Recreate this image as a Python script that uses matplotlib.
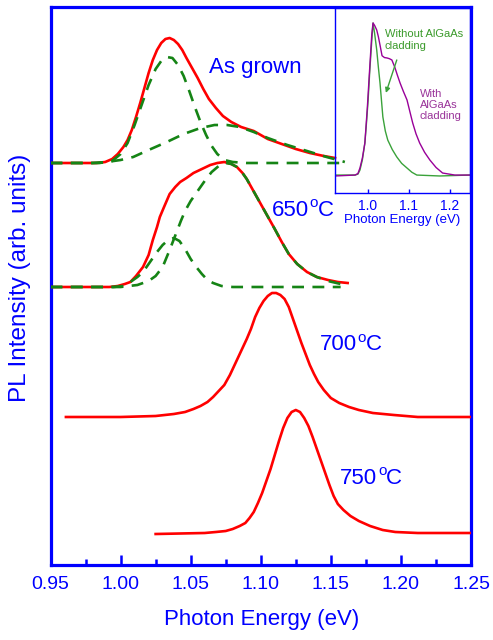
import matplotlib
matplotlib.use("Agg")
import matplotlib.pyplot as plt
from matplotlib.ticker import MultipleLocator

plt.rcParams['font.family'] = ['Liberation Sans', 'DejaVu Sans']

BLUE = '#0000FF'
RED = '#FF0000'
DGREEN = '#158415'
IGREEN = '#3aa23a'
PURPLE = '#990099'

# ---- main panel data (photon energy eV, PL intensity arb. units, offset stacked) ----
asg_x = [0.950, 0.975, 0.983, 0.989, 0.994, 0.998, 1.002, 1.005, 1.008, 1.011, 1.014, 1.017,
         1.020, 1.023, 1.026, 1.029, 1.032, 1.035, 1.038, 1.041, 1.044, 1.047, 1.051, 1.055,
         1.059, 1.063, 1.068, 1.073, 1.079, 1.086, 1.095, 1.105, 1.115, 1.125, 1.135, 1.145, 1.153]
asg_y = [402, 402, 402, 403, 406, 411, 418, 425, 435, 448, 462, 477,
         492, 505, 515, 522, 526, 527, 525, 521, 515, 507, 497, 487,
         476, 466, 457, 449, 443, 438, 434, 426, 421, 416, 412, 409, 407]
asg_c1_x = [0.950, 0.985, 0.994, 1.000, 1.005, 1.010, 1.015, 1.020, 1.025, 1.029, 1.033, 1.037,
            1.041, 1.045, 1.049, 1.053, 1.057, 1.061, 1.065, 1.069, 1.074, 1.080, 1.090, 1.160]
asg_c1_y = [402, 402, 404, 411, 422, 440, 460, 480, 496, 504, 508, 507,
            500, 489, 474, 458, 443, 430, 419, 411, 405, 403, 402, 402]
asg_c2_x = [0.950, 0.980, 0.990, 1.000, 1.009, 1.020, 1.033, 1.045, 1.057, 1.067, 1.076, 1.085,
            1.095, 1.105, 1.119, 1.133, 1.147, 1.155, 1.160]
asg_c2_y = [402, 402, 403, 405, 408, 415, 423, 431, 437, 440, 440, 438,
            433, 427, 420, 414, 408, 405, 403]

a650_x = [0.950, 0.985, 0.992, 0.998, 1.003, 1.007, 1.011, 1.016, 1.020, 1.023, 1.026, 1.028,
          1.031, 1.035, 1.039, 1.0425, 1.047, 1.052, 1.058, 1.064, 1.069, 1.074, 1.079, 1.083,
          1.087, 1.090, 1.094, 1.098, 1.102, 1.106, 1.110, 1.115, 1.120, 1.126, 1.133, 1.140,
          1.148, 1.155, 1.162]
a650_y = [278, 278, 278, 279, 281, 283, 289, 298, 310, 325, 338, 348,
          358, 371, 378, 383, 387, 392, 396, 400, 402, 403, 401, 398,
          392, 386, 376, 366, 356, 346, 336, 323, 311, 301, 293, 288,
          285, 283, 282]
a650_c1_x = [0.950, 0.995, 1.002, 1.007, 1.012, 1.016, 1.021, 1.026, 1.030, 1.034, 1.038, 1.042,
             1.046, 1.050, 1.054, 1.058, 1.062, 1.066, 1.072, 1.080, 1.157]
a650_c1_y = [278, 278, 279, 283, 288, 293, 303, 313, 320, 325, 327, 324,
             316, 306, 298, 291, 285, 282, 279, 278, 278]
a650_c2_x = [0.950, 1.000, 1.012, 1.020, 1.025, 1.030, 1.035, 1.040, 1.043, 1.046, 1.050, 1.054,
             1.057, 1.061, 1.065, 1.070, 1.075, 1.079, 1.083, 1.087, 1.090, 1.094, 1.098, 1.102,
             1.106, 1.110, 1.115, 1.120, 1.126, 1.133, 1.140, 1.148, 1.157]
a650_c2_y = [278, 278, 280, 284, 289, 298, 315, 333, 344, 354, 364, 372,
             378, 386, 393, 399, 402, 401, 398, 392, 386, 376, 366, 356,
             346, 336, 323, 311, 301, 293, 288, 284, 281]

a700_x = [0.961, 1.000, 1.025, 1.038, 1.046, 1.052, 1.057, 1.062, 1.066, 1.070, 1.074, 1.078,
          1.082, 1.086, 1.090, 1.093, 1.096, 1.099, 1.102, 1.105, 1.108, 1.111, 1.114, 1.117,
          1.120, 1.123, 1.126, 1.129, 1.132, 1.135, 1.138, 1.141, 1.145, 1.150, 1.156, 1.163,
          1.170, 1.180, 1.195, 1.212, 1.250]
a700_y = [148, 148, 149, 151, 153, 156, 159, 163, 168, 174, 180, 190,
          202, 214, 226, 236, 248, 257, 264, 269, 272, 272, 270, 266,
          258, 246, 234, 222, 211, 200, 191, 183, 175, 167, 162, 158,
          155, 152, 150, 148, 148]

a750_x = [1.025, 1.060, 1.068, 1.075, 1.080, 1.085, 1.089, 1.092, 1.095, 1.098, 1.101, 1.104,
          1.107, 1.110, 1.113, 1.116, 1.119, 1.122, 1.125, 1.128, 1.131, 1.134, 1.137, 1.140,
          1.143, 1.146, 1.149, 1.152, 1.155, 1.159, 1.164, 1.170, 1.178, 1.187, 1.196, 1.212, 1.250]
a750_y = [31, 32, 33, 34, 36, 39, 42, 47, 53, 62, 72, 84,
          96, 110, 124, 137, 147, 153, 155, 153, 147, 139, 128, 116,
          104, 92, 80, 69, 61, 55, 49, 44, 39, 35, 33, 32, 32]

x_ticks = [0.95, 1.00, 1.05, 1.10, 1.15, 1.20, 1.25]
x_tick_labels = ['0.95', '1.00', '1.05', '1.10', '1.15', '1.20', '1.25']

# ---- inset data (normalised PL) ----
wo_x = [0.920, 0.969, 0.976, 0.981, 0.987, 0.993, 0.997, 1.001, 1.005, 1.010, 1.013, 1.017,
        1.022, 1.026, 1.030, 1.034, 1.037, 1.043, 1.049, 1.060, 1.071, 1.083, 1.096, 1.108,
        1.120, 1.176, 1.249]
wo_y = [0.097, 0.097, 0.102, 0.124, 0.180, 0.270, 0.380, 0.503, 0.660, 0.827, 0.919, 0.860,
        0.773, 0.680, 0.595, 0.490, 0.411, 0.335, 0.286, 0.235, 0.195, 0.160, 0.135, 0.112,
        0.097, 0.092, 0.097]
w_x = [0.920, 0.969, 0.976, 0.981, 0.987, 0.993, 0.999, 1.005, 1.010, 1.013, 1.017, 1.022,
       1.026, 1.030, 1.035, 1.041, 1.047, 1.053, 1.059, 1.066, 1.072, 1.079, 1.087, 1.096,
       1.103, 1.110, 1.118, 1.127, 1.139, 1.152, 1.167, 1.183, 1.213, 1.249]
w_y = [0.092, 0.097, 0.105, 0.135, 0.190, 0.270, 0.460, 0.681, 0.860, 0.919, 0.905, 0.881,
       0.845, 0.800, 0.742, 0.732, 0.730, 0.726, 0.719, 0.681, 0.640, 0.595, 0.550, 0.503,
       0.440, 0.378, 0.320, 0.270, 0.220, 0.178, 0.138, 0.108, 0.097, 0.097]
inset_ticks = [1.0, 1.1, 1.2]

fig = plt.figure(figsize=(4.93, 6.40), dpi=100)
ax = fig.add_axes([50.5 / 493, 75 / 640, 420.5 / 493, 558 / 640])

lw = 1.9
dash = (0, (4.5, 3.2))
ax.plot(asg_x, asg_y, color=RED, lw=lw, zorder=3)
ax.plot(asg_c1_x, asg_c1_y, color=DGREEN, lw=lw, ls=dash, zorder=4)
ax.plot(asg_c2_x, asg_c2_y, color=DGREEN, lw=lw, ls=dash, zorder=4)
ax.plot(a650_x, a650_y, color=RED, lw=lw, zorder=3)
ax.plot(a650_c1_x, a650_c1_y, color=DGREEN, lw=lw, ls=dash, zorder=4)
ax.plot(a650_c2_x, a650_c2_y, color=DGREEN, lw=lw, ls=dash, zorder=4)
ax.plot(a700_x, a700_y, color=RED, lw=lw, zorder=3)
ax.plot(a750_x, a750_y, color=RED, lw=lw, zorder=3)

ax.set_xlim(0.95, 1.25)
ax.set_ylim(0, 558)
ax.set_xticks(x_ticks)
ax.set_xticklabels(x_tick_labels)
ax.xaxis.set_minor_locator(MultipleLocator(0.025))
ax.set_yticks([])
ax.tick_params(axis='x', which='major', direction='in', length=7.5, width=1.8,
               colors=BLUE, labelsize=14, pad=8)
ax.tick_params(axis='x', which='minor', direction='in', length=4, width=1.8, colors=BLUE)
for s in ax.spines.values():
    s.set_color(BLUE)
    s.set_linewidth(2.3)

tfs = 16
ax.text(1.0964, 497, 'As grown', color=BLUE, fontsize=tfs, ha='center', va='center')


def temp_label(x, y, num):
    t1 = ax.text(x, y, num, color=BLUE, fontsize=tfs, ha='left', va='center')
    t2 = ax.annotate('o', xy=(1.0, 0.62), xycoords=t1, color=BLUE, fontsize=11,
                     ha='left', va='baseline', xytext=(0.3, 0), textcoords='offset points')
    ax.annotate('C', xy=(1.0, 0.5), xycoords=(t2, t1), color=BLUE, fontsize=tfs,
                ha='left', va='center')


temp_label(1.1082, 355, '650')
temp_label(1.1425, 220, '700')
temp_label(1.1568, 87, '750')

fig.text(261.5 / 493, 20 / 640, 'Photon Energy (eV)', color=BLUE, fontsize=16,
         ha='center', va='center')
fig.text(20 / 493, (640 - 278) / 640, 'PL Intensity (arb. units)', color=BLUE,
         fontsize=17.5, ha='center', va='center', rotation=90)

# ---- inset ----
axi = fig.add_axes([335 / 493, 447 / 640, 135 / 493, 185 / 640])
axi.patch.set_alpha(0)
axi.plot(wo_x, wo_y, color=IGREEN, lw=1.0)
axi.plot(w_x, w_y, color=PURPLE, lw=1.0)
axi.set_xlim(0.92, 1.25)
axi.set_ylim(0, 1)
axi.set_xticks(inset_ticks)
axi.set_xticklabels(['1.0', '1.1', '1.2'])
axi.set_yticks([])
axi.tick_params(axis='x', direction='in', length=3, width=1, colors=BLUE,
                labelsize=10, pad=4)
for s in axi.spines.values():
    s.set_color(BLUE)
    s.set_linewidth(1.0)
axi.set_xlabel('Photon Energy (eV)', color=BLUE, fontsize=9.5, labelpad=1)
axi.text(1.042, 0.827, 'Without AlGaAs\ncladding', color='#3a9a2a', fontsize=8,
         ha='left', va='center', linespacing=1.15)
axi.text(1.127, 0.476, 'With\nAlGaAs\ncladding', color='#993399', fontsize=8,
         ha='left', va='center', linespacing=1.15)
axi.annotate('', xy=(1.0444, 0.541), xytext=(1.071, 0.719),
             arrowprops=dict(arrowstyle='-|>', color=IGREEN, lw=1.0,
                             mutation_scale=7, shrinkA=0, shrinkB=0))

fig.savefig('out.png', dpi=100)
